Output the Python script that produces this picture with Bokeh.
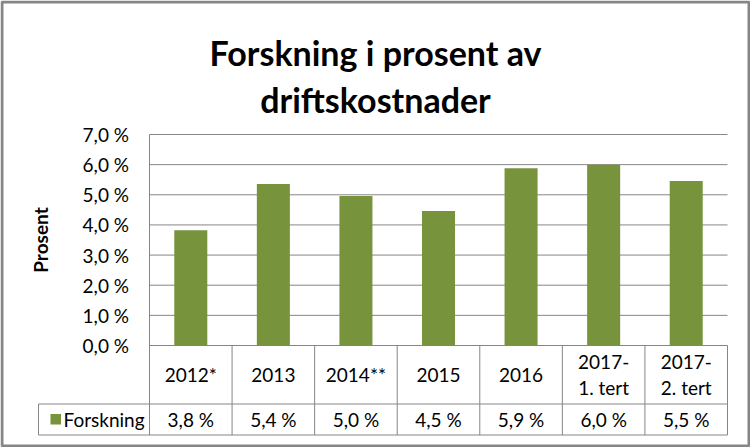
import math
from bokeh.plotting import figure
from bokeh.models import Range1d
from bokeh.core.properties import value
from bokeh.embed import file_html
from bokeh.resources import INLINE

# ---------------- data ----------------
TITLE_LINES = ["Forskning i prosent av", "driftskostnader"]
Y_LABEL = "Prosent"
SERIES_NAME = "Forskning"
CATEGORIES = ["2012*", "2013", "2014**", "2015", "2016", "2017-\n1. tert", "2017-\n2. tert"]
VALUES = [3.82, 5.36, 4.96, 4.46, 5.88, 6.00, 5.46]
Y_TICKS = [0, 1, 2, 3, 4, 5, 6, 7]
Y_TICK_LABELS = ["0,0 %", "1,0 %", "2,0 %", "3,0 %", "4,0 %", "5,0 %", "6,0 %", "7,0 %"]
TABLE_LABELS = [f"{v:.1f}".replace(".", ",") + " %" for v in VALUES]

# ---------------- layout (pixels) ----------------
W, H = 750, 447
PL, PR = 149, 727          # plot area left / right
PY0, PYT = 345, 134        # pixel of y=0 and of top tick
ROW1_B = 403.5             # bottom of header row of table
TAB_B = 434.5              # bottom of table
LEG_L = 38                 # left edge of legend cell
BAR_COLOR = "#77933C"
LINE_COLOR = "#868686"
FONT = "Lato"
SMALL = "19px"

n = len(CATEGORIES)
cw = (PR - PL) / n
uy = (PY0 - PYT) / (Y_TICKS[-1] - Y_TICKS[0])


def dx(px):
    return (px - PL) / cw


def dy(py):
    return (PY0 - py) / uy


p = figure(width=W, height=H, x_range=Range1d(dx(0), dx(W)), y_range=Range1d(dy(H), dy(0)),
           output_backend="svg", toolbar_location=None, min_border=0,
           x_axis_location=None, y_axis_location=None)
p.grid.visible = False
p.outline_line_color = None
p.background_fill_color = "white"
p.border_fill_color = "white"

# gridlines
p.segment(x0=[0] * len(Y_TICKS), x1=[n] * len(Y_TICKS), y0=Y_TICKS, y1=Y_TICKS,
          line_color=LINE_COLOR, line_width=1)

# vertical lines: axis line + category boundaries in table
p.segment(x0=[0], x1=[0], y0=[Y_TICKS[-1]], y1=[dy(TAB_B)], line_color=LINE_COLOR, line_width=1)
p.segment(x0=list(range(1, n + 1)), x1=list(range(1, n + 1)), y0=[0] * n, y1=[dy(TAB_B)] * n,
          line_color=LINE_COLOR, line_width=1)
p.segment(x0=[dx(LEG_L)], x1=[dx(LEG_L)], y0=[dy(ROW1_B)], y1=[dy(TAB_B)],
          line_color=LINE_COLOR, line_width=1)
# horizontal table lines
p.segment(x0=[dx(LEG_L)] * 2, x1=[n] * 2, y0=[dy(ROW1_B), dy(TAB_B)], y1=[dy(ROW1_B), dy(TAB_B)],
          line_color=LINE_COLOR, line_width=1)

# bars
p.vbar(x=[i + 0.5 for i in range(n)], top=VALUES, bottom=0, width=0.4,
       fill_color=BAR_COLOR, line_color=None)

# y tick labels
p.text(x=[dx(128.5)] * len(Y_TICKS), y=Y_TICKS, text=Y_TICK_LABELS,
       text_font=value(FONT), text_font_size=value(SMALL), text_align="right",
       text_baseline="middle", text_color="black")

# axis label
p.text(x=[dx(40)], y=[dy(239.5)], text=[Y_LABEL], angle=math.pi / 2,
       text_font=value(FONT), text_font_size=value(SMALL), text_font_style="bold",
       text_align="center", text_baseline="middle", text_color="black")

# title
p.text(x=[dx(375)] * 2, y=[dy(52), dy(98.5)], text=TITLE_LINES,
       text_font=value(FONT), text_font_size=value("34px"), text_font_style="bold",
       text_align="center", text_baseline="alphabetic", text_color="black")

# table header (categories)
hx, hy, ht = [], [], []
hc = (PY0 + ROW1_B) / 2
lh = 25.5
for i, c in enumerate(CATEGORIES):
    lines = c.split("\n")
    for k, ln in enumerate(lines):
        hx.append(i + 0.5)
        hy.append(dy(hc + (k - (len(lines) - 1) / 2) * lh))
        ht.append(ln)
p.text(x=hx, y=hy, text=ht, text_font=value(FONT), text_font_size=value(SMALL),
       text_align="center", text_baseline="middle", text_color="black")

# table values
vc = (ROW1_B + TAB_B) / 2
p.text(x=[i + 0.5 for i in range(n)], y=[dy(vc)] * n, text=TABLE_LABELS,
       text_font=value(FONT), text_font_size=value(SMALL), text_align="center",
       text_baseline="middle", text_color="black")

# legend key in table
p.quad(left=[dx(50)], right=[dx(60.5)], top=[dy(413.5)], bottom=[dy(424)],
       fill_color=BAR_COLOR, line_color=None)
p.text(x=[dx(63)], y=[dy(vc)], text=[SERIES_NAME], text_font=value(FONT),
       text_font_size=value(SMALL), text_align="left", text_baseline="middle",
       text_color="black")

# outer border
p.quad(left=[dx(1.5)], right=[dx(W - 1.5)], top=[dy(1.5)], bottom=[dy(H - 1.5)],
       fill_color=None, line_color=LINE_COLOR, line_width=3)

open("out.html", "w").write(file_html(p, INLINE))
